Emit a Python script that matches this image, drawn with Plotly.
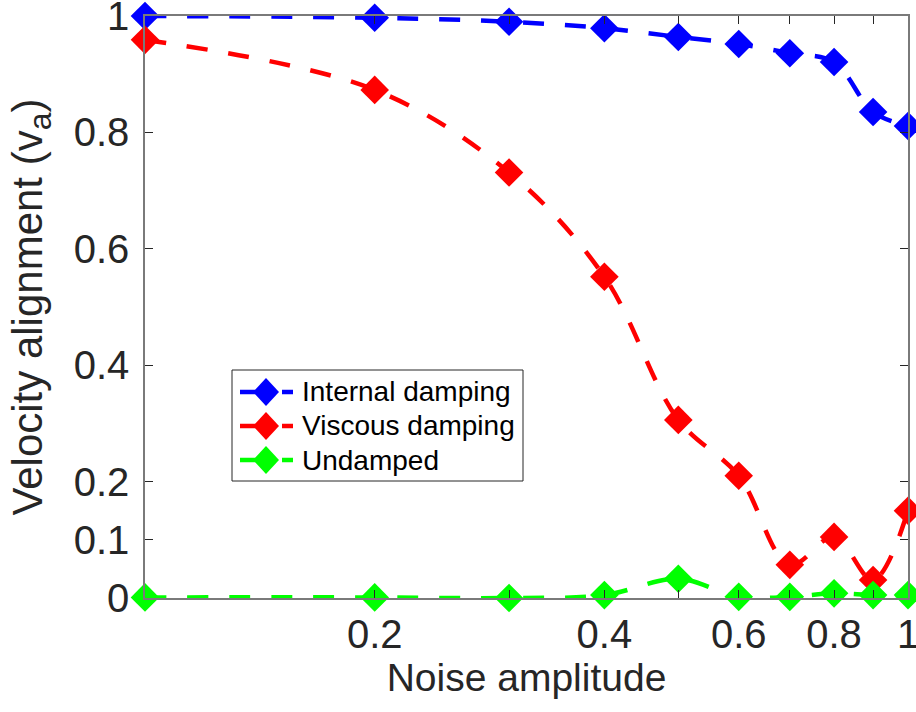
import plotly.graph_objects as go

# Noise amplitude (log axis) and velocity alignment for each damping model
noise = [0.1, 0.2, 0.3, 0.4, 0.5, 0.6, 0.7, 0.8, 0.9, 1.0]
internal_damping = [1.0, 0.997, 0.99, 0.979, 0.964, 0.952, 0.936, 0.921, 0.835, 0.811]
viscous_damping = [0.959, 0.873, 0.731, 0.552, 0.306, 0.21, 0.057, 0.105, 0.031, 0.15]
undamped = [0.001, 0.001, 0.0, 0.005, 0.033, 0.002, 0.002, 0.008, 0.005, 0.005]

x_tickvals = [0.1, 0.2, 0.3, 0.4, 0.5, 0.6, 0.7, 0.8, 0.9, 1.0]
x_ticktext = ["", "0.2", "", "0.4", "", "0.6", "", "0.8", "", "1"]
y_tickvals = [0, 0.1, 0.2, 0.4, 0.6, 0.8, 1]
y_ticktext = ["0", "0.1", "0.2", "0.4", "0.6", "0.8", "1"]

series_names = ["Internal damping", "Viscous damping", "Undamped"]
series_values = [internal_damping, viscous_damping, undamped]
series_colors = ["#0000ff", "#ff0000", "#00ff00"]

W, H = 916, 712
M_L, M_R, M_T, M_B = 145, 8, 16, 114
PW, PH = W - M_L - M_R, H - M_T - M_B
LINE_W = 4.5
DASH = "21px,21px"


def px_x(px):
    return (px - M_L) / PW


def px_y(py):
    return (H - M_B - py) / PH


fig = go.Figure()
for name, vals, color in zip(series_names, series_values, series_colors):
    fig.add_trace(go.Scatter(
        x=noise, y=vals, name=name, mode="lines+markers", showlegend=False,
        line=dict(color=color, width=LINE_W, dash=DASH, shape="spline", smoothing=1),
        marker=dict(symbol="diamond", size=22, color=color, line=dict(width=0)),
        cliponaxis=False,
    ))

axis_color = "#262626"
font_family = "Liberation Sans, Arial, sans-serif"

# Boxed legend in the lower-left part of the axes
box = dict(x0=232, x1=523, y0=370, y1=481)
shapes = [dict(
    type="rect", xref="paper", yref="paper", layer="above",
    x0=px_x(box["x0"]), x1=px_x(box["x1"]), y0=px_y(box["y1"]), y1=px_y(box["y0"]),
    line=dict(color=axis_color, width=1), fillcolor="white",
)]
annotations = []
row_y = [392, 426, 460]
for name, color, ry in zip(series_names, series_colors, row_y):
    shapes.append(dict(
        type="line", xref="paper", yref="paper", layer="above",
        x0=px_x(240), x1=px_x(293), y0=px_y(ry), y1=px_y(ry),
        line=dict(color=color, width=LINE_W, dash=DASH),
    ))
    cx, hw, hh = 266, 13, 14
    path = "M {} {} L {} {} L {} {} L {} {} Z".format(
        px_x(cx - hw), px_y(ry), px_x(cx), px_y(ry - hh),
        px_x(cx + hw), px_y(ry), px_x(cx), px_y(ry + hh))
    shapes.append(dict(
        type="path", xref="paper", yref="paper", layer="above", path=path,
        fillcolor=color, line=dict(width=0),
    ))
    annotations.append(dict(
        text=name, xref="paper", yref="paper", x=px_x(300), y=px_y(ry),
        xanchor="left", yanchor="middle", showarrow=False,
        font=dict(size=28, color="black", family=font_family),
    ))

fig.update_layout(
    width=W, height=H,
    margin=dict(l=M_L, r=M_R, t=M_T, b=M_B, autoexpand=False),
    paper_bgcolor="white", plot_bgcolor="white",
    font=dict(family=font_family, color=axis_color),
    showlegend=False,
    shapes=shapes,
    annotations=annotations,
)

fig.update_xaxes(
    type="log", range=[-1, 0], automargin=False,
    tickvals=x_tickvals, ticktext=x_ticktext,
    ticks="inside", ticklen=8, tickwidth=1, tickcolor=axis_color,
    showline=True, linecolor="#7a7a7a", linewidth=1.5, mirror="ticks",
    showgrid=False, zeroline=False,
    tickfont=dict(size=40, color=axis_color),
    ticklabeloverflow="allow",
    title=dict(text="Noise amplitude", font=dict(size=39, color=axis_color), standoff=8),
)
fig.update_yaxes(
    range=[0, 1], automargin=False,
    tickvals=y_tickvals, ticktext=y_ticktext,
    ticks="inside", ticklen=8, tickwidth=1, tickcolor=axis_color,
    showline=True, linecolor="#7a7a7a", linewidth=1.5, mirror="ticks",
    showgrid=False, zeroline=False,
    tickfont=dict(size=40, color=axis_color),
    ticklabelstandoff=6,
    ticklabeloverflow="allow",
    title=dict(
        text="Velocity alignment (v<sub><span style='font-size:32px'>a</span></sub>)",
        font=dict(size=42, color=axis_color), standoff=18,
    ),
)

fig.write_html("out.html")
